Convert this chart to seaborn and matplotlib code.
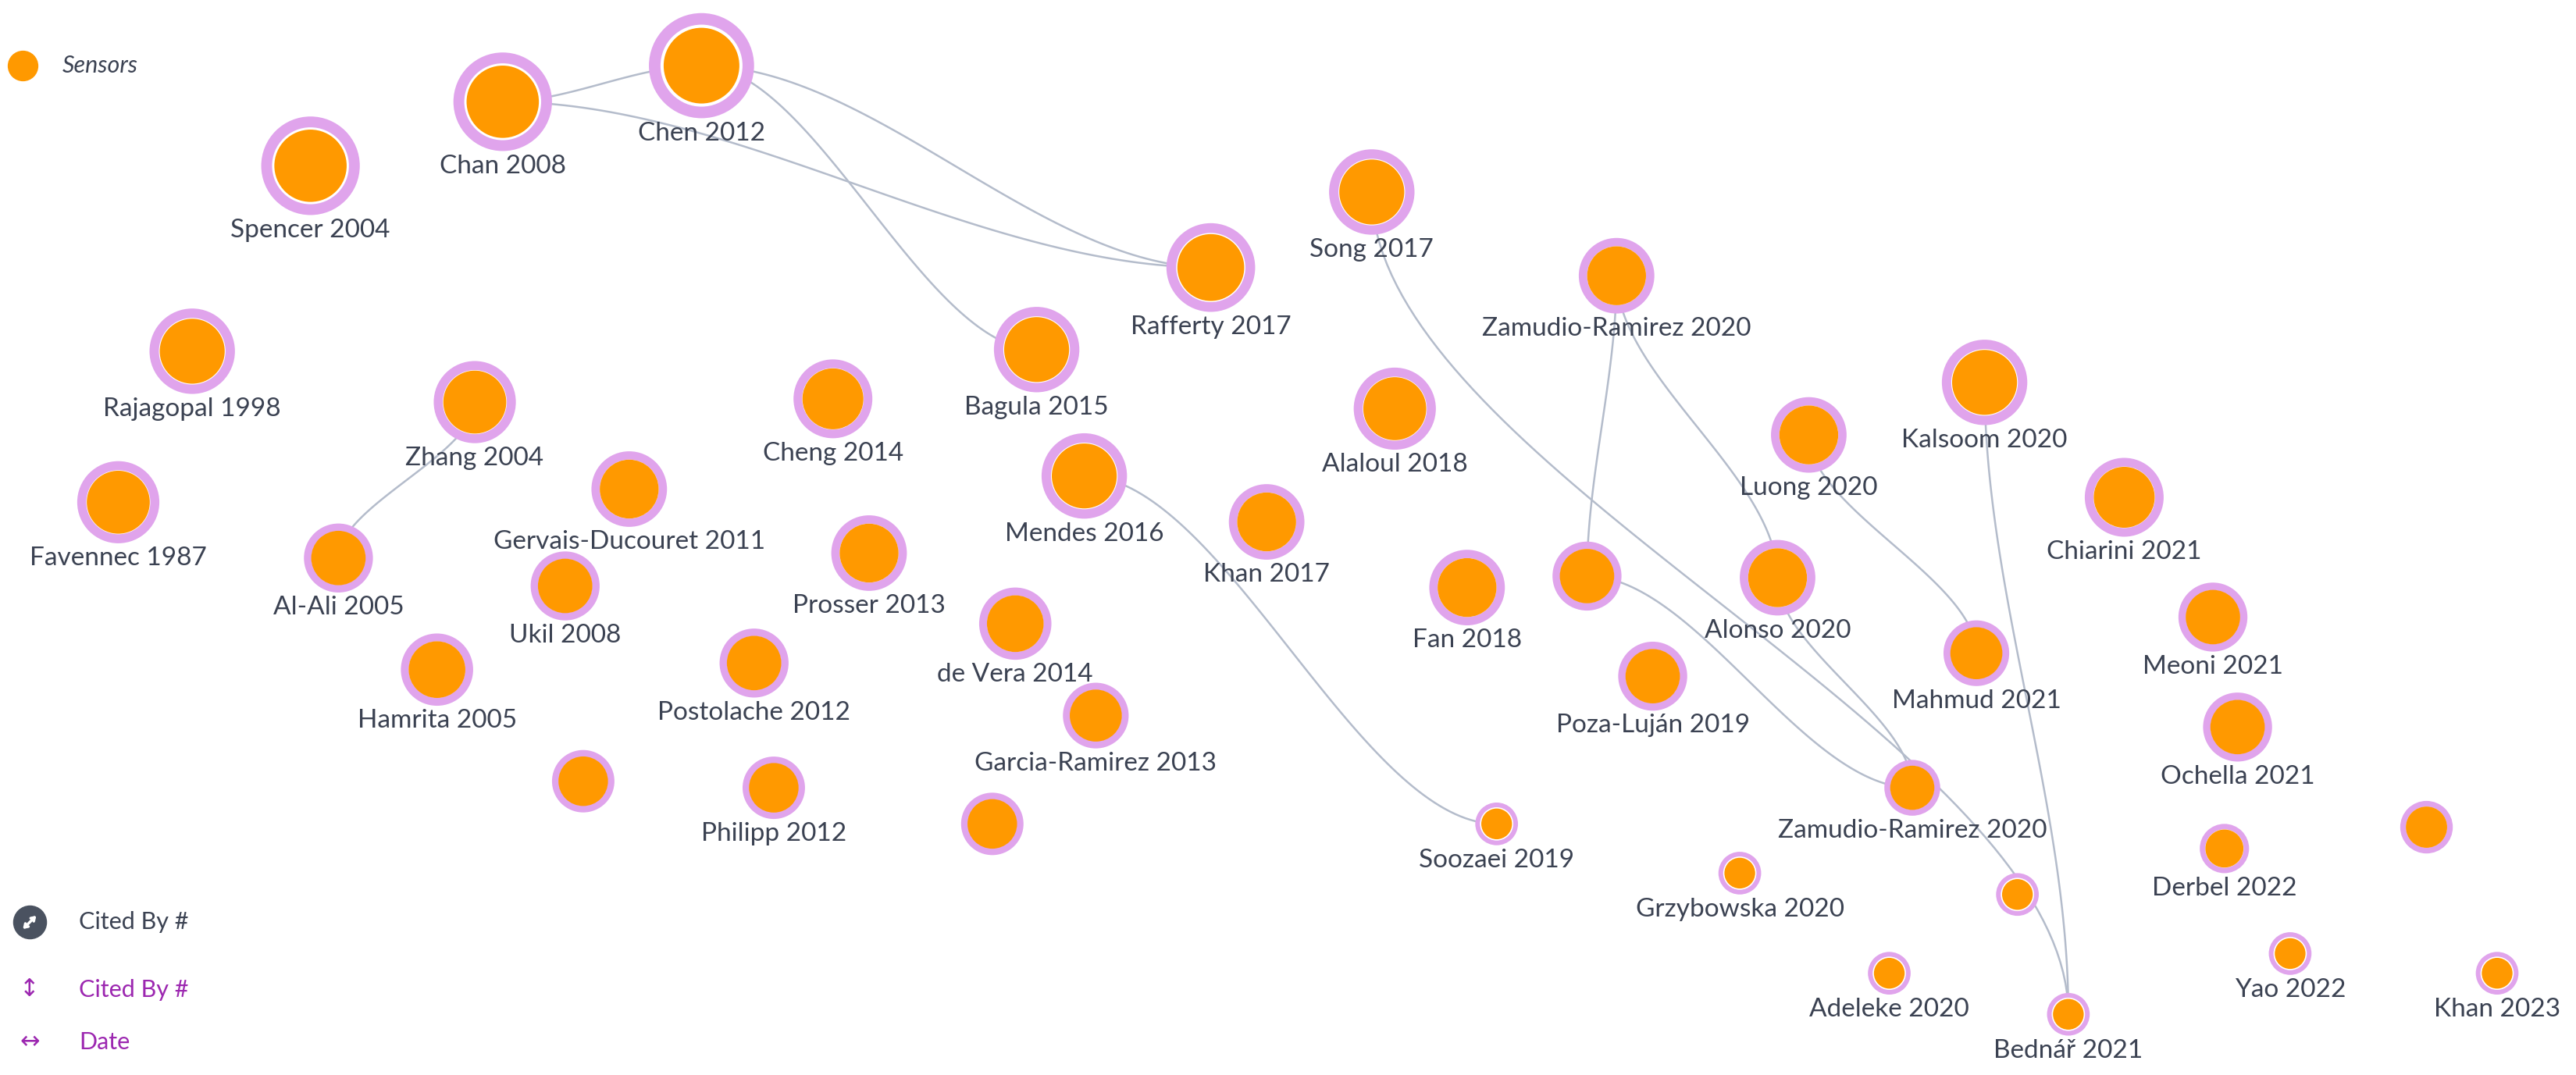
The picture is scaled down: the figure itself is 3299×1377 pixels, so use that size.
import numpy as np
import pandas as pd
import matplotlib
matplotlib.use("Agg")
import matplotlib.pyplot as plt
import seaborn as sns

names = ["Spencer 2004","Chan 2008","Chen 2012","Rajagopal 1998","Favennec 1987","Zhang 2004","Al-Ali 2005",
 "Gervais-Ducouret 2011","Ukil 2008","Hamrita 2005","","Cheng 2014","Prosser 2013","Postolache 2012","Philipp 2012","",
 "Bagula 2015","Mendes 2016","de Vera 2014","Garcia-Ramirez 2013","Rafferty 2017","Song 2017","Khan 2017","Alaloul 2018",
 "Fan 2018","Zamudio-Ramirez 2020","","Poza-Luján 2019","Alonso 2020","Luong 2020","Kalsoom 2020","Mahmud 2021",
 "Chiarini 2021","Meoni 2021","Ochella 2021","Zamudio-Ramirez 2020","Soozaei 2019","Grzybowska 2020","",
 "Adeleke 2020","Bednář 2021","Derbel 2022","","Yao 2022","Khan 2023"]
xs = [189,306,427,117,72,289,206,383,344,266,355,507,529,459,471,604,631,660,618,667,737,835,771,849,893,984,966,1006,
      1082,1101,1208,1203,1293,1347,1362,1164,911,1059,1228,1150,1259,1354,1477,1394,1520]
ys = [101,62,40,214,306,245,340,298,357,408,476,243,337,404,480,502,213,290,380,436,163,117,318,249,358,168,351,412,
      352,265,233,398,303,376,443,480,502,532,545,593,618,517,504,581,593]
radius = [30,30,32,26,25,25,21,23,21,22,19,24,23,21,19,19,26,26,22,20,27,26,23,25,23,23,21,21,23,23,26,20,24,21,21,
          17,13,13,13,13,13,15,16,13,13]
edge_src = [1,1,2,2,5,17,21,25,25,26,28,29,30]
edge_dst = [2,20,20,16,6,36,40,26,28,35,35,31,40]

df = pd.DataFrame({"x": xs, "y": ys, "r": radius, "name": names})
SC = 3299/1568
def s_of(r):
    return (2*r*SC*0.72)**2

fig = plt.figure(figsize=(32.99, 13.77), dpi=100)
ax = fig.add_axes([0, 0, 1, 1])

for a, b in zip(edge_src, edge_dst):
    x1, y1, x2, y2 = xs[a], ys[a], xs[b], ys[b]
    t = np.linspace(0, 1, 80)
    if abs(x2-x1) > abs(y2-y1):
        bx = x1 + (x2-x1)*t
        by = y1 + (y2-y1)*(3*t**2-2*t**3)
    else:
        by = y1 + (y2-y1)*t
        bx = x1 + (x2-x1)*(3*t**2-2*t**3)
    ax.plot(bx, by, color="#b4bccb", lw=1.8, zorder=1)

inner = [s_of(r*0.72) for r in radius]
ax.scatter(xs, ys, s=[s_of(r) for r in radius], color="#e0a4ec", edgecolor="none", zorder=2)
ax.scatter(xs, ys, s=[s_of(r*0.78) for r in radius], color="white", edgecolor="none", zorder=3)
sns.scatterplot(data=df, x="x", y="y", size="r", sizes=(min(inner), max(inner)), size_norm=(min(radius), max(radius)),
                color="#ff9900", edgecolor="none", legend=False, ax=ax, zorder=4)
ax.set_xlim(0, 1568); ax.set_ylim(655, 0); ax.axis("off")

for n, x, y, r in zip(names, xs, ys, radius):
    if n:
        ax.text(x, y + r + 2, n, ha="center", va="top", fontsize=24, color="#3b4252",
                family="Lato", zorder=5)

ax.scatter([14], [40], s=s_of(9), color="#ff9900", zorder=5)
ax.text(38, 40, "Sensors", fontsize=22, style="italic", va="center", color="#3b4252", family="Lato")
ax.scatter([18], [562], s=s_of(10), color="#4a5260", zorder=5)
ax.annotate("", xy=(23, 557), xytext=(13, 567),
            arrowprops=dict(arrowstyle="<->,head_length=0.3,head_width=0.2", color="white", lw=2.5), zorder=6)
ax.text(48, 562, "Cited By #", fontsize=22, va="center", color="#3b4252", family="Lato")
ax.text(18, 603, "↕", fontsize=22, va="center", ha="center", color="#9c27b0", family="DejaVu Sans")
ax.text(48, 603, "Cited By #", fontsize=22, va="center", color="#9c27b0", family="Lato")
ax.text(18, 635, "↔", fontsize=22, va="center", ha="center", color="#9c27b0", family="DejaVu Sans")
ax.text(48, 635, "Date", fontsize=22, va="center", color="#9c27b0", family="Lato")

fig.savefig("out.png", dpi=100, facecolor="white")
